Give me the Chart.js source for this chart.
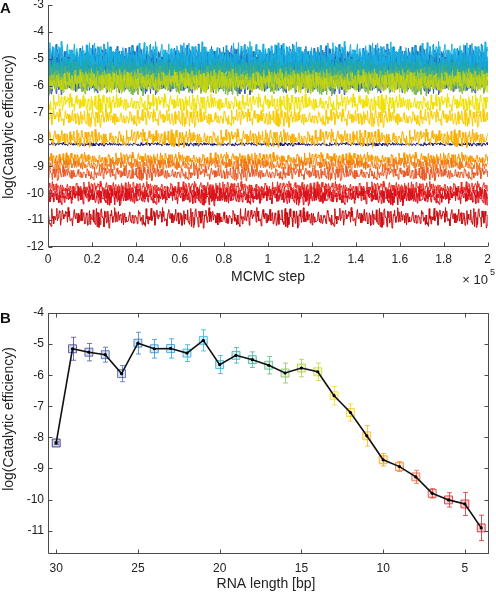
<!DOCTYPE html>
<html>
<head>
<meta charset="utf-8">
<script src="https://cdn.jsdelivr.net/npm/chart.js@4"></script>
<style>
  html, body { margin: 0; padding: 0; background: #fff; }
  body { width: 496px; height: 594px; position: relative; overflow: hidden; }
  #chartA { position: absolute; left: 0; top: -10px; }
  #chartB { position: absolute; left: 0; top: 290px; }
</style>
</head>
<body>
<canvas id="chartA" width="496" height="310"></canvas>
<canvas id="chartB" width="496" height="304"></canvas>
<script>
// ===== DATA =====
const rnaLengths = [30, 29, 28, 27, 26, 25, 24, 23, 22, 21, 20, 19, 18, 17, 16, 15, 14, 13, 12, 11, 10, 9, 8, 7, 6, 5, 4];
const logEff = [-8.18, -5.15, -5.26, -5.34, -5.95, -4.97, -5.15, -5.14, -5.29, -4.88, -5.66, -5.36, -5.50, -5.68, -5.93, -5.77, -5.89, -6.66, -7.20, -7.95, -8.72, -8.94, -9.27, -9.80, -10.01, -10.14, -10.91];
const errBar = [0.04, 0.37, 0.28, 0.24, 0.26, 0.35, 0.30, 0.31, 0.27, 0.34, 0.29, 0.25, 0.25, 0.28, 0.32, 0.28, 0.28, 0.30, 0.28, 0.33, 0.20, 0.16, 0.21, 0.15, 0.23, 0.37, 0.41];
// half-width of each MCMC trace band (panel A)
const traceSpread = [0.07, 0.45, 0.40, 0.36, 0.40, 0.55, 0.50, 0.50, 0.46, 0.55, 0.46, 0.42, 0.42, 0.42, 0.46, 0.42, 0.42, 0.38, 0.36, 0.36, 0.26, 0.26, 0.28, 0.26, 0.30, 0.34, 0.40];
const lengthColors = ['#14146e', '#2e3190', '#33409a', '#3550a5', '#3a5aac', '#1f6fbf', '#1a86cc', '#1a96d6', '#1aa4dc', '#1ab0e0',
  '#1aa8c8', '#20a8b0', '#30ab98', '#50b080', '#7cba50', '#a4c82a', '#c4d414', '#f0e000', '#f8cc00', '#f8b000',
  '#f89800', '#f07818', '#e85a28', '#e63228', '#e0181c', '#d8101a', '#c80c10'];
// sampler jitter, in units of the band half-width
const jitter = [0.12, -0.45, 0.63, -0.08, 0.31, -0.72, 0.05, 0.48, -0.27, 0.86, -0.14, -0.58, 0.22, 0.04, -0.39, 0.71, -0.61, 0.18, 0.35, -0.09, -0.83, 0.44, 0.11, -0.26, 0.57, -0.47, 0.29, -0.02, 0.93, -0.33,
  -0.15, 0.52, -0.68, 0.07, 0.38, -0.51, 0.24, -0.11, 0.66, -0.40, 0.01, -0.77, 0.46, 0.16, -0.22, 0.79, -0.36, -0.05, 0.27, -0.62, 0.55, -0.18, 0.09, -0.90, 0.41, 0.20, -0.31, 0.62, -0.54, 0.13,
  0.34, -0.07, -0.66, 0.50, 0.03, -0.43, 0.88, -0.21, 0.14, -0.49, 0.60, -0.12, -0.35, 0.25, 0.76, -0.64, 0.08, -0.28, 0.42, -0.97, 0.19, 0.53, -0.16, 0.32, -0.57, 0.06, 0.69, -0.38, -0.03, 0.47,
  -0.74, 0.21, 0.37, -0.19, 0.58, -0.46, -0.10, 0.83, -0.30, 0.15, -0.59, 0.28, 0.02, -0.42, 0.73, -0.23, -0.67, 0.40, 0.10, -0.34, 0.64, -0.52, 0.17, -0.06, 0.95, -0.41, 0.23, -0.81, 0.36, 0.00,
  -0.25, 0.49, -0.13, 0.70, -0.56, 0.11, -0.37, 0.30, 0.84, -0.48, -0.04, 0.26, -0.70, 0.45, 0.07, -0.20, 0.61, -0.63, 0.19, -0.09, 0.39, -0.86, 0.54, -0.17, 0.22, -0.44, 0.67, -0.29, 0.12, -0.50];
const mcmcTicks = [0, 20000, 40000, 60000, 80000, 100000, 120000, 140000, 160000, 180000, 200000];
const yTicksA = [-12, -11, -10, -9, -8, -7, -6, -5, -4, -3];
const lengthTicks = [30, 25, 20, 15, 10, 5];
const yTicksB = [-11, -10, -9, -8, -7, -6, -5, -4];

const TRACE_POINTS = 700;
const AXIS_COLOR = '#4a4a4a';
const FONT = '"Liberation Sans", Arial, sans-serif';

Chart.defaults.font.family = FONT;
Chart.defaults.font.size = 12;
Chart.defaults.color = '#222';

function rgba(hex, a) {
  const n = parseInt(hex.slice(1), 16);
  return `rgba(${n >> 16},${(n >> 8) & 255},${n & 255},${a})`;
}

// ===== SHARED AXIS FRAME (inward ticks) =====
const framePlugin = {
  id: 'frame',
  afterDraw(chart, args, opts) {
    const { ctx, chartArea: a, scales } = chart;
    const len = 4;
    ctx.save();
    ctx.strokeStyle = AXIS_COLOR;
    ctx.lineWidth = 1;
    ctx.beginPath();
    const L = Math.round(a.left) + 0.5, R = Math.round(a.right) - 0.5;
    const T = Math.round(a.top) + 0.5, B = Math.round(a.bottom) - 0.5;
    ctx.moveTo(L, T - 0.5); ctx.lineTo(L, B); ctx.lineTo(R + 0.5, B);
    if (opts.box) { ctx.moveTo(L, T); ctx.lineTo(R, T); ctx.lineTo(R, B); }
    scales.x.ticks.forEach(t => {
      const px = Math.round(scales.x.getPixelForValue(t.value)) + 0.5;
      ctx.moveTo(px, B); ctx.lineTo(px, B - len);
      if (opts.box) { ctx.moveTo(px, T); ctx.lineTo(px, T + len); }
    });
    scales.y.ticks.forEach(t => {
      const py = Math.round(scales.y.getPixelForValue(t.value)) + 0.5;
      ctx.moveTo(L, py); ctx.lineTo(L + len, py);
      if (opts.box) { ctx.moveTo(R, py); ctx.lineTo(R - len, py); }
    });
    ctx.stroke();

    // panel letter + axis titles
    ctx.fillStyle = '#111';
    ctx.font = `bold 15px ${FONT}`;
    ctx.textAlign = 'left';
    ctx.textBaseline = 'alphabetic';
    ctx.fillText(opts.letter, 0, opts.letterY);
    ctx.fillStyle = '#222';
    ctx.font = `14px ${FONT}`;
    ctx.textAlign = 'center';
    ctx.fillText(opts.xTitle, opts.xTitleX, opts.xTitleY);
    ctx.save();
    ctx.translate(9, opts.yTitleY);
    ctx.rotate(-Math.PI / 2);
    ctx.textBaseline = 'middle';
    ctx.fillText('log(Catalytic efficiency)', 0, 0);
    ctx.restore();
    if (opts.exponent) {
      ctx.textAlign = 'right';
      ctx.font = `13px ${FONT}`;
      ctx.fillText('\u00d7 10', 488, 294);
      ctx.textAlign = 'left';
      ctx.font = `9px ${FONT}`;
      ctx.fillText('5', 490, 285);
    }
    ctx.restore();
  }
};

const fixedTicks = arr => s => { s.ticks = arr.map(v => ({ value: v })); };
const plainAxis = { grid: { display: false, drawTicks: false }, border: { display: false } };

// ===== PANEL A: MCMC traces =====
const traceSets = rnaLengths.map((len, k) => {
  const pts = [];
  for (let j = 0; j < TRACE_POINTS; j++) {
    pts.push({
      x: j * mcmcTicks[mcmcTicks.length - 1] / (TRACE_POINTS - 1),
      y: logEff[k] + traceSpread[k] * jitter[(j * 11 + k * 37) % jitter.length]
    });
  }
  return { label: len + ' bp', data: pts, borderColor: lengthColors[k], borderWidth: 1, pointRadius: 0, tension: 0 };
}).reverse();

new Chart(document.getElementById('chartA'), {
  type: 'line',
  data: { datasets: traceSets },
  options: {
    responsive: false,
    animation: false,
    layout: { padding: { left: 0, top: 15, right: 7, bottom: 0 } },
    plugins: {
      legend: { display: false },
      tooltip: { enabled: false },
      frame: { box: false, letter: 'A', letterY: 23, xTitle: 'MCMC step', xTitleX: 268, xTitleY: 291, yTitleY: 137, exponent: true }
    },
    scales: {
      x: {
        type: 'linear', min: 0, max: 200000, ...plainAxis,
        afterBuildTicks: fixedTicks(mcmcTicks),
        afterFit: s => { s.height = 53; },
        ticks: { padding: 5, maxRotation: 0, autoSkip: false, callback: v => String(+(v / 1e5).toFixed(1)) }
      },
      y: {
        min: -12, max: -3, ...plainAxis,
        afterBuildTicks: fixedTicks(yTicksA),
        afterFit: s => { s.width = 48; },
        ticks: { padding: 4 }
      }
    }
  },
  plugins: [framePlugin]
});

// ===== PANEL B: efficiency vs RNA length =====
const pointsB = rnaLengths.map((len, k) => ({ x: len, y: logEff[k] }));

const errorBarPlugin = {
  id: 'errorBars',
  beforeDatasetsDraw(chart) {
    const { ctx, scales: { x, y } } = chart;
    ctx.save();
    ctx.lineWidth = 1;
    rnaLengths.forEach((len, k) => {
      const px = Math.round(x.getPixelForValue(len)) + 0.5;
      const top = y.getPixelForValue(logEff[k] + errBar[k]);
      const bot = y.getPixelForValue(logEff[k] - errBar[k]);
      ctx.strokeStyle = rgba(lengthColors[k], 0.7);
      ctx.beginPath();
      ctx.moveTo(px, top); ctx.lineTo(px, bot);
      ctx.moveTo(px - 2.5, top); ctx.lineTo(px + 2.5, top);
      ctx.moveTo(px - 2.5, bot); ctx.lineTo(px + 2.5, bot);
      ctx.stroke();
    });
    ctx.restore();
  }
};

new Chart(document.getElementById('chartB'), {
  type: 'line',
  data: {
    datasets: [
      { label: 'mean', data: pointsB, showLine: false, pointRadius: 1.6, pointBackgroundColor: '#000', pointBorderWidth: 0 },
      { label: 'line', data: pointsB, borderColor: '#111', borderWidth: 1.6, pointRadius: 0, tension: 0 },
      {
        label: 'markers', data: pointsB, showLine: false, pointStyle: 'rect', pointRadius: 5.6, pointBorderWidth: 1,
        pointBorderColor: lengthColors.map(c => rgba(c, 0.75)),
        pointBackgroundColor: lengthColors.map(c => rgba(c, 0.18))
      }
    ]
  },
  options: {
    responsive: false,
    animation: false,
    layout: { padding: { left: 0, top: 23, right: 5, bottom: 0 } },
    plugins: {
      legend: { display: false },
      tooltip: { enabled: false },
      frame: { box: true, letter: 'B', letterY: 33, xTitle: 'RNA length [bp]', xTitleX: 266, xTitleY: 298, yTitleY: 129, exponent: false }
    },
    scales: {
      x: {
        type: 'linear', min: 3.5, max: 30.5, reverse: true, ...plainAxis,
        afterBuildTicks: fixedTicks(lengthTicks),
        afterFit: s => { s.height = 40; },
        ticks: { padding: 7, maxRotation: 0, autoSkip: false }
      },
      y: {
        min: -11.75, max: -4, ...plainAxis,
        afterBuildTicks: fixedTicks(yTicksB),
        afterFit: s => { s.width = 48; },
        ticks: { padding: 4 }
      }
    }
  },
  plugins: [errorBarPlugin, framePlugin]
});
</script>
</body>
</html>
